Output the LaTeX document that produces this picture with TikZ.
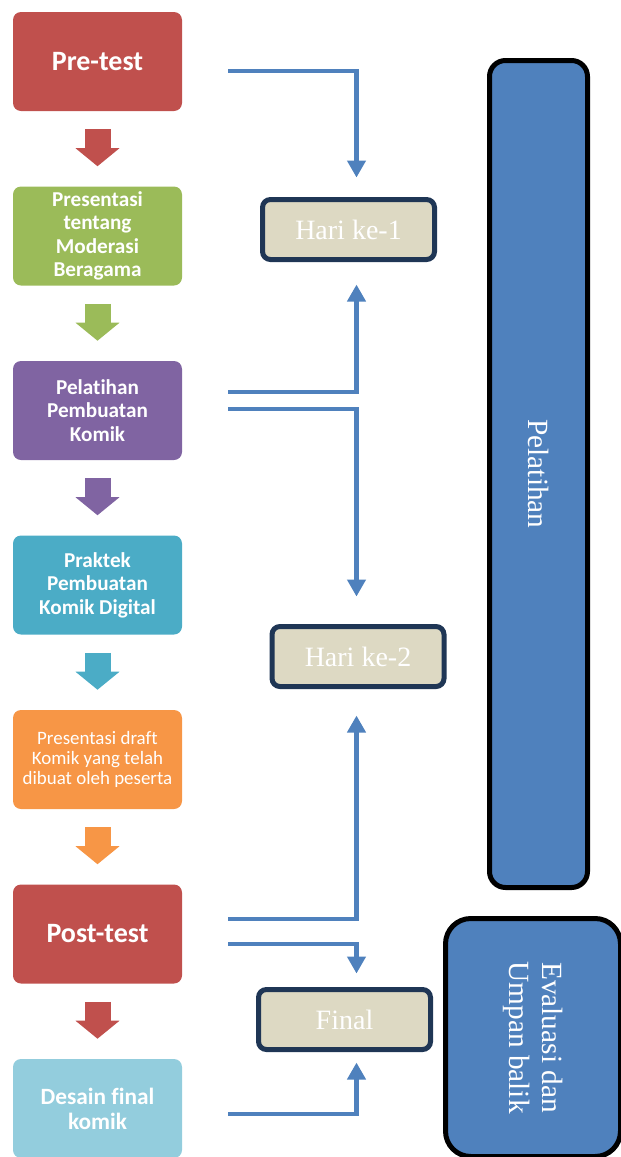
\documentclass[tikz,border=0pt]{standalone}
\usepackage{fontspec}
\setmainfont{Liberation Serif}
\newfontfamily\calibri[Ligatures=NoCommon]{Carlito}
\usetikzlibrary{arrows.meta,positioning,calc}
\definecolor{cred}{HTML}{C0504D}
\definecolor{cgreen}{HTML}{9BBB59}
\definecolor{cpurple}{HTML}{8064A2}
\definecolor{cteal}{HTML}{4BACC6}
\definecolor{corange}{HTML}{F79646}
\definecolor{clight}{HTML}{93CDDD}
\definecolor{cblue}{HTML}{4F81BD}
\definecolor{cnavy}{HTML}{1F3655}
\definecolor{cbeige}{HTML}{DDD9C3}

\begin{document}
\begin{tikzpicture}
[x=0.75pt,y=-0.75pt,
    stepbox/.style={rounded corners=6pt,minimum width=126.75pt,minimum height=74.25pt,
    text=white,align=center,inner sep=2pt},
    big/.style={font=\calibri\bfseries\fontsize{21}{25}\selectfont},
    mid/.style={font=\calibri\bfseries\fontsize{15.9}{17.6}\selectfont},
    blk/.style={line width=19.5pt,-{Triangle[width=32.25pt,length=13.5pt]},
    shorten <=13.5pt,shorten >=15pt},
    day/.style={draw=cnavy,fill=cbeige,line width=3.75pt,rounded corners=6pt,
    minimum width=129pt,minimum height=45pt,text=white,
    font=\fontsize{21}{25}\selectfont},
    phase/.style={draw=black,fill=cblue,line width=3.75pt,text=white,align=center,
    font=\fontsize{22}{25}\selectfont},
    conn/.style={draw=cblue,line width=3.4pt,-{Triangle[width=13.5pt,length=12.75pt]}}]
\useasboundingbox (0,0) rectangle (621,1157);
%% steps
\node (pre) [stepbox,big,fill=cred] at (97.5,61.5) {Pre-test};
\node (mod) [stepbox,mid,fill=cgreen] at (97.5,236) {Presentasi\\tentang\\Moderasi\\Beragama};
\node (latkom) [stepbox,mid,fill=cpurple] at (97.5,410.5) {Pelatihan\\Pembuatan\\Komik};
\node (prak) [stepbox,mid,fill=cteal] at (97.5,585) {Praktek\\Pembuatan\\Komik Digital};
\node (draft) [stepbox,fill=corange,font=\calibri\fontsize{14.2}{15}\selectfont]
at (97.5,759.5) {Presentasi draft\\Komik yang telah\\dibuat oleh peserta};
\node (post) [stepbox,big,fill=cred] at (97.5,934) {Post-test};
\node (desain) [stepbox,fill=clight,font=\calibri\bfseries\fontsize{17.5}{18.75}\selectfont]
at (97.5,1108.5) {Desain final\\komik};
%% days
\node (h1) [day] at (348.5,229.5) {Hari ke-1};
\node (h2) [day] at (358,656.5) {Hari ke-2};
\node (fin) [day] at (344.5,1019.5) {Final};
%% phases
\node (latih) [phase,rotate=-90,rounded corners=12pt,minimum width=620.25pt,
minimum height=73.5pt] at (538.5,474) {Pelatihan};
\node (eval) [phase,rotate=-90,rounded corners=19pt,minimum width=178.5pt,
minimum height=131.25pt] at (533,1037.5) {Evaluasi dan\\Umpan balik};
%% block arrows
\draw[blk,cred] (pre) -- (mod);
\draw[blk,cgreen] (mod) -- (latkom);
\draw[blk,cpurple] (latkom) -- (prak);
\draw[blk,cteal] (prak) -- (draft);
\draw[blk,corange] (draft) -- (post);
\draw[blk,cred] (post) -- (desain);
%% connectors
\coordinate (bus) at (356.5,0);
\coordinate (s1) at (228,71);
\coordinate (s2) at (228,392);
\coordinate (s3) at (228,409);
\coordinate (s4) at (228,919);
\coordinate (s5) at (228,944);
\coordinate (s6) at (228,1114);
\draw[conn,shorten >=14.6pt] (s1) -| (h1.north -| bus);
\draw[conn,shorten >=16.9pt] (s2) -| (h1.south -| bus);
\draw[conn,shorten >=20.6pt] (s3) -| (h2.north -| bus);
\draw[conn,shorten >=19.9pt] (s4) -| (h2.south -| bus);
\draw[conn,shorten >=10.1pt] (s5) -| (fin.north -| bus);
\draw[conn,shorten >=7.9pt] (s6) -| (fin.south -| bus);
\end{tikzpicture}
\end{document}
